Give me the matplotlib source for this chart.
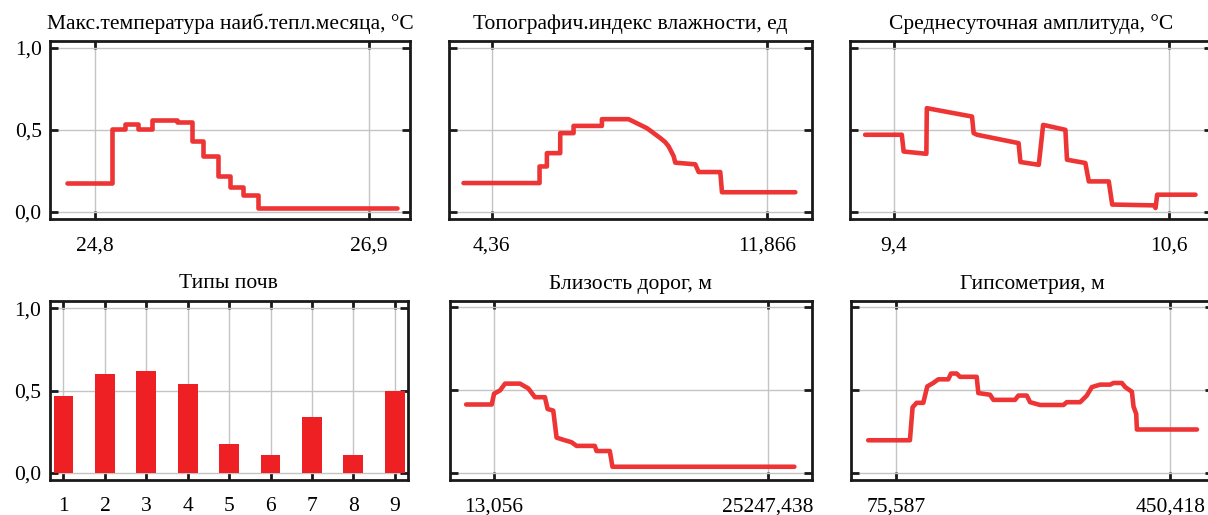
import matplotlib
matplotlib.use("Agg")
import matplotlib.pyplot as plt

# ---------------- data ----------------
titles = [
    "Макс.температура наиб.тепл.месяца, °C",
    "Топографич.индекс влажности, ед",
    "Среднесуточная амплитуда, °C",
    "Типы почв",
    "Близость дорог, м",
    "Гипсометрия, м",
]

# Panel 1: max temperature of warmest month
temp_x = [24.583, 24.928, 24.928, 25.030, 25.030, 25.132, 25.132, 25.234, 25.234,
          25.426, 25.426, 25.541, 25.541, 25.630, 25.630, 25.745, 25.745, 25.835,
          25.835, 25.937, 25.937, 26.052, 26.052, 27.112]
temp_y = [0.176, 0.176, 0.504, 0.504, 0.534, 0.534, 0.504, 0.504, 0.557,
          0.557, 0.549, 0.549, 0.429, 0.429, 0.338, 0.338, 0.217, 0.217,
          0.152, 0.152, 0.105, 0.105, 0.024, 0.024]
temp_ticks = [24.8, 26.9]
temp_labels = ["24,8", "26,9"]

# Panel 2: topographic wetness index
twi_x = [3.587, 5.661, 5.661, 5.861, 5.861, 6.225, 6.225, 6.589, 6.589, 7.362,
         7.362, 8.090, 8.318, 8.591, 8.773, 8.955, 9.090, 9.180, 9.227, 9.318, 9.364,
         9.910, 10.001, 10.592, 10.638, 12.639]
twi_y = [0.176, 0.176, 0.277, 0.277, 0.358, 0.358, 0.480, 0.480, 0.524, 0.524,
         0.565, 0.565, 0.540, 0.510, 0.480, 0.450, 0.425, 0.400, 0.380, 0.340, 0.300,
         0.290, 0.243, 0.243, 0.120, 0.120]
twi_ticks = [4.36, 11.866]
twi_labels = ["4,36", "11,866"]

# Panel 3: mean daily amplitude
amp_x = [9.276, 9.436, 9.444, 9.543, 9.545, 9.742, 9.749, 9.764, 9.945, 9.953,
         10.033, 10.052, 10.069, 10.149, 10.156, 10.236, 10.251, 10.338, 10.353,
         10.535, 10.542, 10.549, 10.716]
amp_y = [0.470, 0.470, 0.368, 0.354, 0.632, 0.581, 0.480, 0.470, 0.419, 0.304,
         0.287, 0.530, 0.525, 0.500, 0.318, 0.298, 0.186, 0.186, 0.045,
         0.040, 0.024, 0.105, 0.105]
amp_ticks = [9.4, 10.6]
amp_labels = ["9,4", "10,6"]

# Panel 4: soil types
soil_types = [1, 2, 3, 4, 5, 6, 7, 8, 9]
soil_values = [0.47, 0.604, 0.619, 0.538, 0.178, 0.11, 0.337, 0.11, 0.497]
soil_labels = ["1", "2", "3", "4", "5", "6", "7", "8", "9"]

# Panel 5: distance to roads
road_x = [-2562, -202, 13, 565, 1025, 2405, 3171, 3784, 4704, 4949, 5470, 5777,
          6390, 7157, 7617, 9303, 9457, 10683, 10928, 27700]
road_y = [0.413, 0.413, 0.478, 0.498, 0.539, 0.539, 0.510, 0.457, 0.457, 0.386,
          0.376, 0.213, 0.200, 0.185, 0.163, 0.163, 0.132, 0.132, 0.037, 0.037]
road_ticks = [13.056, 25247.438]
road_labels = ["13,056", "25247,438"]

# Panel 6: hypsometry
hyp_x = [37.74, 94.74, 98.39, 103.86, 112.98, 118.45, 126.66, 133.50, 147.18,
         150.83, 158.58, 163.14, 185.94, 188.22, 204.18, 208.74, 238.38, 242.94,
         254.34, 258.90, 272.58, 304.50, 309.06, 327.30, 336.42, 343.26, 354.66,
         368.34, 372.90, 384.30, 388.86, 397.98, 400.26, 403.91, 404.82, 486.90]
hyp_y = [0.197, 0.197, 0.396, 0.423, 0.423, 0.522, 0.543, 0.565, 0.565,
         0.600, 0.600, 0.580, 0.580, 0.482, 0.472, 0.441, 0.441, 0.467,
         0.467, 0.427, 0.410, 0.410, 0.427, 0.427, 0.467, 0.518, 0.533,
         0.533, 0.543, 0.543, 0.518, 0.490, 0.400, 0.356, 0.262, 0.262]
hyp_ticks = [75.587, 450.418]
hyp_labels = ["75,587", "450,418"]

y_ticks = [0.0, 0.5, 1.0]
y_labels = ["0,0", "0,5", "1,0"]

# ---------------- style ----------------
plt.rcParams["font.family"] = ["Liberation Serif", "DejaVu Serif"]
RED = "#ee2a2a"
BAR_RED = "#ee2024"
GRID = "#c4c4c4"
W, H = 1208, 515
fig = plt.figure(figsize=(W / 100, H / 100), dpi=100)

def px_axes(l, t, r, b):
    return fig.add_axes([l / W, 1 - b / H, (r - l) / W, (b - t) / H])

def style(ax, show_ylabels):
    for s in ax.spines.values():
        s.set_linewidth(2.0)
        s.set_color("#1a1a1a")
    ax.tick_params(direction="in", length=5.5, width=2.0, color="#1a1a1a",
                   top=True, right=True, labelsize=15.5)
    ax.tick_params(axis="y", pad=6)
    ax.tick_params(axis="x", pad=12.5)
    ax.set_yticks(y_ticks, y_labels if show_ylabels else [])
    ax.grid(True, color=GRID, linewidth=1.0)
    ax.set_axisbelow(True)

line_panels = [
    ((50, 41.5, 410, 219), temp_x, temp_y, temp_ticks, temp_labels, (24.455, 27.214), True, titles[0]),
    ((448.5, 41.5, 812, 219), twi_x, twi_y, twi_ticks, twi_labels, (3.177, 13.094), False, titles[1]),
    ((849.5, 41.5, 1212, 219), amp_x, amp_y, amp_ticks, amp_labels, (9.208, 10.788), False, titles[2]),
    ((449.5, 301, 812, 480), road_x, road_y, road_ticks, road_labels, (-4095, 29325), False, titles[4]),
    ((851.5, 301, 1213, 480), hyp_x, hyp_y, hyp_ticks, hyp_labels, (14.94, 508.8), False, titles[5]),
]

for box, xs, ys, xt, xl, xlim, showy, title in line_panels:
    ax = px_axes(*box)
    ax.plot(xs, ys, color=RED, linewidth=3.3, solid_joinstyle="round",
            solid_capstyle="round", alpha=0.95)
    ax.set_xlim(*xlim)
    ax.set_ylim(-0.043, 1.038)
    ax.set_xticks(xt, xl)
    style(ax, showy)
    ax.set_title(title, fontsize=15.5, pad=9)

# bar panel
ax = px_axes(49.5, 301, 408, 480)
ax.bar(soil_types, soil_values, width=0.48, color=BAR_RED, zorder=2)
ax.set_xlim(0.662, 9.32)
ax.set_ylim(-0.043, 1.045)
ax.set_xticks(soil_types, soil_labels)
style(ax, True)
ax.set_title(titles[3], fontsize=15.5, pad=9)

fig.savefig("out.png", dpi=100)
